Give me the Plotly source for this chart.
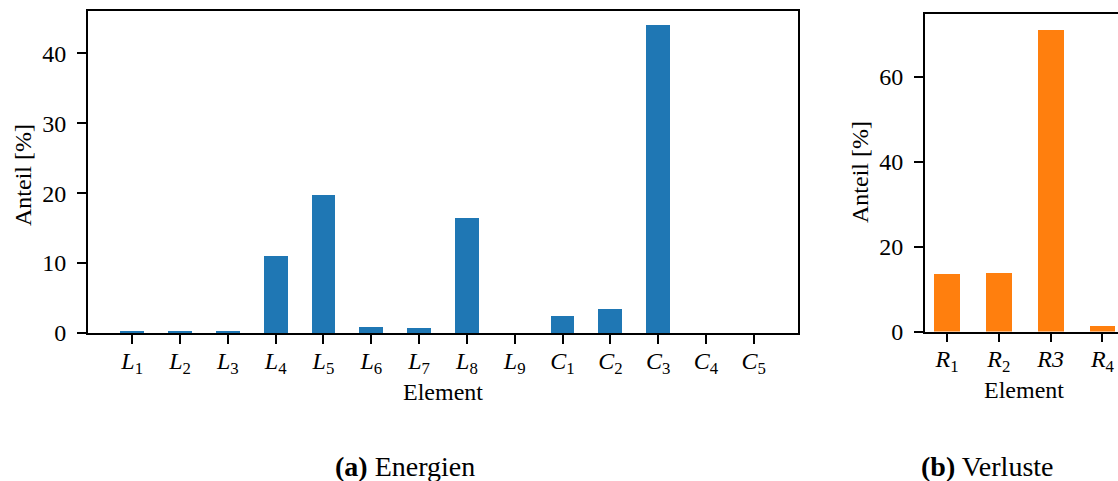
import plotly.graph_objects as go

W, H = 1118, 481

# ---- data ----
energie_labels = ["<i>L</i><sub>1</sub>", "<i>L</i><sub>2</sub>", "<i>L</i><sub>3</sub>", "<i>L</i><sub>4</sub>",
                  "<i>L</i><sub>5</sub>", "<i>L</i><sub>6</sub>", "<i>L</i><sub>7</sub>", "<i>L</i><sub>8</sub>",
                  "<i>L</i><sub>9</sub>", "<i>C</i><sub>1</sub>", "<i>C</i><sub>2</sub>", "<i>C</i><sub>3</sub>",
                  "<i>C</i><sub>4</sub>", "<i>C</i><sub>5</sub>"]
energie_values = [0.35, 0.25, 0.2, 10.95, 19.8, 0.85, 0.7, 16.5, 0.0, 2.5, 3.5, 44.0, 0.0, 0.0]

verlust_labels = ["<i>R</i><sub>1</sub>", "<i>R</i><sub>2</sub>", "<i>R3</i>", "<i>R</i><sub>4</sub>"]
verlust_values = [13.6, 13.7, 71.1, 1.25]

ylabel = "Anteil [%]"
xlabel = "Element"
cap_a = "<b>(a)</b> Energien"
cap_b = "<b>(b)</b> Verluste"

FONT = "Liberation Serif"
FS = 24
FS_CAP = 28

def px_x(p):
    return p / W

def px_y(p):
    return 1 - p / H

xe = list(range(len(energie_values)))
xv = list(range(len(verlust_values)))

fig = go.Figure()
fig.add_trace(go.Bar(x=xe, y=energie_values, width=0.5, marker=dict(color="#1f77b4", line=dict(width=0)),
                     xaxis="x", yaxis="y", showlegend=False))
fig.add_trace(go.Bar(x=xv, y=verlust_values, width=0.5, marker=dict(color="#ff7f0e", line=dict(width=0)),
                     xaxis="x2", yaxis="y2", showlegend=False))

axis_common = dict(showgrid=False, zeroline=False, showline=True, linecolor="black", linewidth=1.8,
                   ticks="outside", ticklen=9, tickwidth=1.6, tickcolor="black", automargin=False,
                   tickfont=dict(family=FONT, size=FS, color="black"))

fig.update_layout(
    template="none",
    width=W, height=H,
    margin=dict(l=0, r=0, t=0, b=0, pad=0),
    paper_bgcolor="white", plot_bgcolor="white",
    font=dict(family=FONT, size=FS, color="black"),
    bargap=0,
    xaxis=dict(domain=[px_x(88), px_x(798)], range=[-0.925, len(xe) - 1 + 0.925],
               tickmode="array", tickvals=xe, ticktext=energie_labels, mirror=True,
               anchor="y", ticklabelstandoff=-4, **axis_common),
    yaxis=dict(domain=[px_y(333), px_y(11)], range=[0, 46.05], tickvals=[0, 10, 20, 30, 40],
               mirror=True, anchor="x", ticklabelstandoff=6, **axis_common),
    xaxis2=dict(domain=[px_x(925), 1.0], range=[-0.425, 3.30],
                tickmode="array", tickvals=xv, ticktext=verlust_labels, mirror=True,
                anchor="y2", ticklabelstandoff=-4, **axis_common),
    yaxis2=dict(domain=[px_y(331.5), px_y(14)], range=[0, 74.75], tickvals=[0, 20, 40, 60],
                mirror=False, anchor="x2", ticklabelstandoff=6, **axis_common),
)

def ann(text, x, y, angle=0, size=FS, yanchor="middle"):
    fig.add_annotation(text=text, x=px_x(x), y=px_y(y), xref="paper", yref="paper",
                       xanchor="center", yanchor=yanchor, showarrow=False, textangle=angle,
                       font=dict(family=FONT, size=size, color="black"))

ann(xlabel, 443, 392)
ann(xlabel, 1024, 390)
ann(ylabel, 23, 175, angle=-90)
ann(ylabel, 860, 172, angle=-90)
ann(cap_a, 405, 484, size=FS_CAP, yanchor="bottom")
ann(cap_b, 987, 484, size=FS_CAP, yanchor="bottom")

fig.write_html("out.html")
